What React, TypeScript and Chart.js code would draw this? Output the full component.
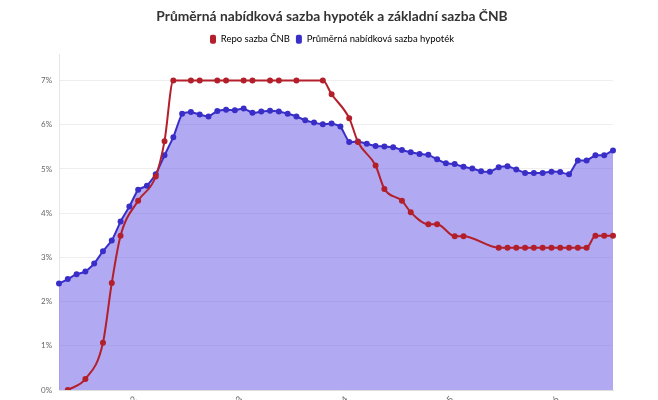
import React, { useEffect, useRef } from "react";
import { Chart, registerables } from "chart.js";

Chart.register(...registerables);

const months: string[] = [
  "5/2021", "6/2021", "7/2021", "8/2021", "9/2021", "10/2021", "11/2021", "12/2021",
  "1/2022", "2/2022", "3/2022", "4/2022", "5/2022", "6/2022", "7/2022", "8/2022",
  "9/2022", "10/2022", "11/2022", "12/2022", "1/2023", "2/2023", "3/2023", "4/2023",
  "5/2023", "6/2023", "7/2023", "8/2023", "9/2023", "10/2023", "11/2023", "12/2023",
  "1/2024", "2/2024", "3/2024", "4/2024", "5/2024", "6/2024", "7/2024", "8/2024",
  "9/2024", "10/2024", "11/2024", "12/2024", "1/2025", "2/2025", "3/2025", "4/2025",
  "5/2025", "6/2025", "7/2025", "8/2025", "9/2025", "10/2025", "11/2025", "12/2025",
  "1/2026", "2/2026", "3/2026", "4/2026", "5/2026", "6/2026", "7/2026", "8/2026",
];

const shownTicks: string[] = ["1/2022", "1/2023", "1/2024", "1/2025", "1/2026"];

const repoRate: (number | null)[] = [
  null, 0, null, 0.25, null, 1.07, 2.42, 3.49,
  null, 4.28, null, 4.83, 5.63, 7.0, null, 7.0,
  7.0, null, 7.0, 7.0, null, 7.0, 7.0, null,
  7.0, 7.0, null, 7.0, null, null, 7.0, 6.69,
  null, 6.15, 5.61, null, 5.08, 4.55, null, 4.28,
  4.02, null, 3.75, 3.75, null, 3.48, 3.48, null,
  null, null, 3.22, 3.22, 3.22, 3.22, 3.22, 3.22,
  3.22, 3.22, 3.22, 3.22, 3.22, 3.49, 3.49, 3.49,
];

const mortgageRate: number[] = [
  2.41, 2.51, 2.62, 2.68, 2.86, 3.14, 3.38, 3.81,
  4.15, 4.53, 4.62, 4.88, 5.31, 5.72, 6.25, 6.29,
  6.23, 6.19, 6.31, 6.34, 6.33, 6.37, 6.27, 6.30,
  6.32, 6.30, 6.25, 6.19, 6.10, 6.05, 6.01, 6.03,
  5.96, 5.61, 5.62, 5.57, 5.52, 5.51, 5.49, 5.43,
  5.38, 5.34, 5.32, 5.22, 5.13, 5.11, 5.05, 5.01,
  4.95, 4.94, 5.04, 5.06, 4.99, 4.91, 4.91, 4.91,
  4.94, 4.93, 4.88, 5.19, 5.19, 5.31, 5.31, 5.42,
];

const seriesNames: string[] = ["Repo sazba ČNB", "Průměrná nabídková sazba hypoték"];
const titleText = "Průměrná nabídková sazba hypoték a základní sazba ČNB";

const FONT = "Lato, 'Roboto', sans-serif";

export default function App() {
  const ref = useRef<HTMLCanvasElement | null>(null);

  useEffect(() => {
    if (!ref.current) return;
    const chart = new Chart(ref.current, {
      type: "line",
      data: {
        labels: months,
        datasets: [
          {
            label: seriesNames[0],
            data: repoRate,
            borderColor: "#b3202b",
            backgroundColor: "#b3202b",
            pointBackgroundColor: "#b3202b",
            pointBorderColor: "#b3202b",
            borderWidth: 2,
            pointRadius: 2,
            spanGaps: true,
            cubicInterpolationMode: "monotone",
            fill: false,
          },
          {
            label: seriesNames[1],
            data: mortgageRate,
            borderColor: "#3a2ec8",
            backgroundColor: "rgba(100, 84, 230, 0.5)",
            pointBackgroundColor: "#3a2ec8",
            pointBorderColor: "#3a2ec8",
            borderWidth: 2,
            pointRadius: 2,
            tension: 0.15,
            fill: "origin",
          },
        ],
      },
      options: {
        animation: false,
        responsive: true,
        maintainAspectRatio: false,
        layout: { padding: { left: 51, right: 45, top: 0, bottom: 0 } },
        plugins: {
          title: {
            display: true,
            text: titleText,
            color: "#333",
            font: { family: FONT, size: 13.8, weight: "bold" },
            padding: { top: 8, bottom: 4 },
          },
          legend: {
            display: true,
            labels: {
              color: "#444",
              font: { family: FONT, size: 9.5 },
              boxWidth: 6,
              boxHeight: 9,
              useBorderRadius: true,
              borderRadius: 2,
              padding: 6,
              generateLabels: (c: any) =>
                c.data.datasets.map((ds: any, i: number) => ({
                  text: ds.label,
                  fillStyle: ds.borderColor,
                  strokeStyle: ds.borderColor,
                  lineWidth: 0,
                  borderRadius: 2,
                  datasetIndex: i,
                  hidden: false,
                })),
            },
          },
          tooltip: { enabled: false },
        },
        scales: {
          x: {
            grid: { display: false, drawTicks: false },
            border: { display: true, color: "#ddd" },
            ticks: {
              autoSkip: false,
              maxRotation: 45,
              minRotation: 45,
              color: "#666",
              font: { family: FONT, size: 9 },
              padding: 4,
              labelOffset: 6,
              callback: function (this: any, value: any) {
                const lab = this.getLabelForValue(value) as string;
                return shownTicks.includes(lab) ? lab : "";
              },
            },
            afterFit: (s: any) => {
              s.height = 50;
            },
          },
          y: {
            min: 0,
            max: 7.6,
            grid: { color: "#eeeeee", drawTicks: false },
            border: { display: true, color: "#e6e6e6" },
            ticks: {
              stepSize: 1,
              mirror: true,
              color: "#666",
              font: { family: FONT, size: 8 },
              padding: -18,
              callback: (v: any) => `${v}%`,
            },
            afterBuildTicks: (axis: any) => {
              axis.ticks = axis.ticks.filter((t: any) => Number.isInteger(t.value));
            },
            afterFit: (s: any) => {
              s.width = 8;
            },
          },
        },
      },
    });
    return () => chart.destroy();
  }, []);

  return (
    <div style={{ position: "absolute", left: 0, top: 0, width: 658, height: 440, background: "#fff" }}>
      <canvas ref={ref} />
    </div>
  );
}
